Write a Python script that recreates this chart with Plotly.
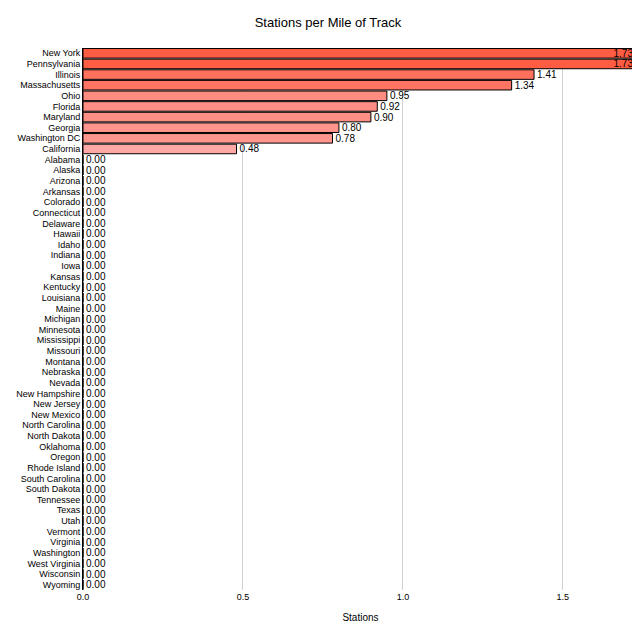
import plotly.graph_objects as go

states = ["New York","Pennsylvania","Illinois","Massachusetts","Ohio","Florida","Maryland","Georgia","Washington DC","California",
"Alabama","Alaska","Arizona","Arkansas","Colorado","Connecticut","Delaware","Hawaii","Idaho","Indiana","Iowa","Kansas","Kentucky",
"Louisiana","Maine","Michigan","Minnesota","Mississippi","Missouri","Montana","Nebraska","Nevada","New Hampshire","New Jersey",
"New Mexico","North Carolina","North Dakota","Oklahoma","Oregon","Rhode Island","South Carolina","South Dakota","Tennessee","Texas",
"Utah","Vermont","Virginia","Washington","West Virginia","Wisconsin","Wyoming"]
values = [1.73,1.73,1.41,1.34,0.95,0.92,0.90,0.80,0.78,0.48] + [0.0]*41

positions = ["inside" if v > 1.6 else "outside" for v in values]

fig = go.Figure(go.Bar(
    x=values, y=states, orientation="h",
    text=[f"{v:.2f}" for v in values], textposition=positions,
    insidetextanchor="end", textangle=0,
    textfont=dict(family="Liberation Sans, Arial", size=10, color="black"),
    marker=dict(color=values, colorscale=[[0,"#ffaaa8"],[1,"#ff5c44"]], cmin=0.45, cmax=1.73,
                line=dict(color="black", width=1)),
    width=0.9, cliponaxis=False,
))
fig.update_layout(
    width=640, height=640, paper_bgcolor="white", plot_bgcolor="white",
    margin=dict(l=75, r=10, t=40, b=58),
    title=dict(text="Stations per Mile of Track", x=0.5, y=0.985, yanchor="top",
               font=dict(family="Liberation Sans, Arial", size=13, color="black")),
    font=dict(family="Liberation Sans, Arial", size=9, color="black"),
    showlegend=False, bargap=0.1,
    uniformtext=dict(minsize=10, mode="show"),
)
fig.update_xaxes(range=[0, 1.735], tickvals=[0, 0.5, 1.0, 1.5], ticktext=["0.0","0.5","1.0","1.5"],
                 showgrid=True, gridcolor="#d0d0d0", zeroline=False, automargin=False,
                 title=dict(text="Stations", font=dict(size=10), standoff=12), ticks="", ticklen=0)
fig.update_yaxes(autorange="reversed", showline=True, linecolor="black", ticks="", ticklen=3,
                 tickmode="array", tickvals=states, ticktext=states, automargin=False,
                 tickfont=dict(size=9), showgrid=False)
fig.add_annotation(text="<i>Sources: Stockingblue, Wikipedia</i>", xref="paper", yref="paper",
                   x=1, y=-0.085, xanchor="right", yanchor="top", showarrow=False,
                   font=dict(size=8, color="black"))
fig.write_html("out.html")
